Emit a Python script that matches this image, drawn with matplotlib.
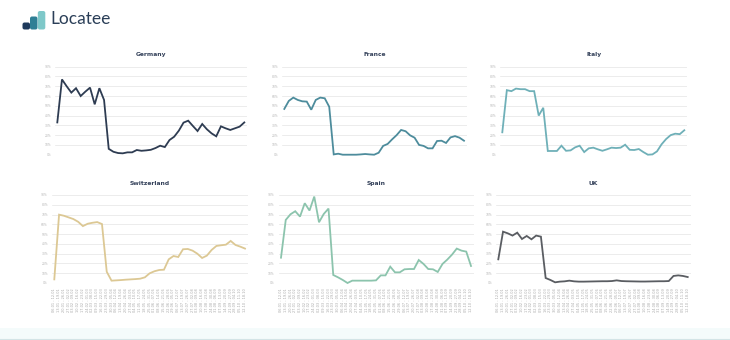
import numpy as np
import pandas as pd
import matplotlib.pyplot as plt
from matplotlib.patches import FancyBboxPatch, Rectangle

# Weekly occupancy share per country (%)
germany = [33, 77, 70, 63.5, 68, 60, 64.5, 68.6, 51.5, 68, 56, 6, 3, 1.7, 1.4, 2.4, 2.4, 4.8, 4, 4.4, 5,
           6.8, 9.2, 7.8, 15, 18.4, 24.6, 32.8, 34.8, 29.4, 24.2, 31.4, 26, 21.8, 18.8, 29, 27, 25.3, 27, 28.7, 33]
france = [46.8, 55, 58.4, 56, 54.6, 54.3, 46, 56, 58.4, 57.7, 49, 0.3, 1, 0, 0, 0, 0, 0.3, 0.7, 0.3, 0,
          2, 9, 11, 15.7, 20, 25.3, 24, 19.8, 17.4, 10, 9, 6.5, 6.5, 14, 14.3, 12, 17.7, 19, 17.4, 14.3]
italy = [22.9, 66, 65, 67.6, 67, 67, 65, 65, 40, 48, 3.8, 3.8, 3.8, 9.2, 4, 4.4, 7.5, 9.2, 2.7, 6.5, 7.2,
         5.5, 4, 5.5, 7.2, 6.8, 7.2, 10.2, 5, 4.8, 5.8, 2.7, 0, 0.3, 3.4, 10.6, 16, 20, 21.5, 21, 25]
switzerland = [3.7, 69.9, 68.8, 67.1, 65.4, 62.6, 58.2, 60.6, 61.6, 62.3, 60.3, 11.5, 2.4, 2.7, 3, 3.4, 3.7,
               4, 4.4, 5.8, 9.9, 12, 13.3, 13.6, 24.2, 27.6, 26.6, 34.5, 34.8, 33.1, 30, 25.6, 28, 33.8,
               37.9, 38.6, 39.2, 43, 38.9, 37.2, 35.2]
spain = [25.9, 64.5, 70.3, 73.4, 67.9, 81.6, 74.1, 88.4, 62.1, 70.6, 76.1, 8.2, 5.8, 3.1, 0, 2.4, 2.4, 2.4,
         2.4, 2.4, 2.7, 7.8, 7.8, 16.7, 10.9, 10.9, 14, 14.3, 14.3, 23.5, 19.5, 14.3, 14, 11.3, 19.5, 23.9,
         29, 35.2, 33.1, 32.1, 17.4]
uk = [24.2, 52.5, 50.8, 48.5, 51.5, 45, 48.1, 44.7, 48.5, 47.4, 5.1, 3.1, 0.7, 1.4, 1.7, 2.4, 1.7, 1.4, 1.4,
      1.5, 1.6, 1.7, 1.8, 1.8, 2, 2.7, 2, 1.8, 1.7, 1.6, 1.5, 1.5, 1.6, 1.7, 1.8, 1.8, 2, 7.2, 7.8, 7.2, 6.1]

week_start = pd.date_range("2020-01-06", periods=len(germany), freq="7D")
week_labels = [f"{d:%d.%m} - {(d + pd.Timedelta(days=6)):%d.%m}" for d in week_start]

y_ticks = list(range(0, 91, 10))
y_labels = [f"{v}%" for v in y_ticks]

# name, values, colour, (data x start px, data x end px), (y of 0% px, y of 90% px), show dates
panels = [
    ("Germany", germany, "#2e3c52", (57.3, 244.3), (154.7, 66.7), False),
    ("France", france, "#4d8c9c", (284.3, 464.0), (154.7, 66.7), False),
    ("Italy", italy, "#6fb0b8", (502.3, 684.3), (154.7, 66.7), False),
    ("Switzerland", switzerland, "#dcc894", (54.3, 245.0), (283.0, 195.0), True),
    ("Spain", spain, "#8cc4ad", (281.0, 471.0), (283.0, 195.0), True),
    ("UK", uk, "#5a5d62", (498.3, 687.7), (283.0, 195.0), True),
]

W, H = 730, 340
fig = plt.figure(figsize=(W / 100, H / 100), dpi=100)
fig.patch.set_facecolor("white")

n = len(germany)
for name, vals, col, (x0, x1), (yb, yt), show_dates in panels:
    step = (x1 - x0) / (n - 1)
    left = x0 - 0.45 * step
    right = x1 + 0.65 * step
    ax = fig.add_axes([left / W, 1 - yb / H, (right - left) / W, (yb - yt) / H])
    ax.plot(range(n), vals, color=col, lw=1.3, clip_on=False, solid_joinstyle="miter")
    ax.set_xlim(-0.45, n - 1 + 0.65)
    ax.set_ylim(0, 90)
    ax.set_yticks(y_ticks, y_labels)
    ax.grid(axis="y", color="#e4e4e4", lw=0.5)
    ax.set_axisbelow(True)
    for s in ax.spines.values():
        s.set_visible(False)
    ax.tick_params(axis="y", length=0, pad=3, labelsize=2.2, labelcolor="#b5b5b5")
    if show_dates:
        ax.set_xticks(range(n), week_labels, rotation=90)
        ax.tick_params(axis="x", length=0, pad=4, labelsize=2.5, labelcolor="#a8a8a8")
    else:
        ax.set_xticks([])
    ax.set_title(name, fontsize=4.3, fontweight="bold", color="#34415a", pad=7.5)

# logo: three stepped bars
lax = fig.add_axes([22 / W, 1 - 30 / H, 24 / W, 20 / H])
lax.set_xlim(0, 24)
lax.set_ylim(0, 20)
lax.axis("off")
for bx, bh, bc in [(0.5, 7, "#1f3a5c"), (8.0, 13, "#2f7f95"), (15.8, 18.5, "#7ec8c9")]:
    lax.add_patch(FancyBboxPatch((bx, 0.5), 7.5, bh, boxstyle="round,pad=0,rounding_size=2",
                                 fc=bc, ec="none"))
fig.text(50 / W, 1 - 18.5 / H, "Locatee", fontsize=12.5, family="Lato", color="#2b3f58",
         va="center", ha="left")

# faint band along the bottom edge
fig.add_artist(Rectangle((0, 0), 1, 12 / H, transform=fig.transFigure, fc="#f4fbfb", ec="none"))
fig.add_artist(plt.Line2D([0, 1], [1.5 / H, 1.5 / H], transform=fig.transFigure, color="#d3e4e6", lw=0.8))

fig.savefig("out.png", dpi=100)
